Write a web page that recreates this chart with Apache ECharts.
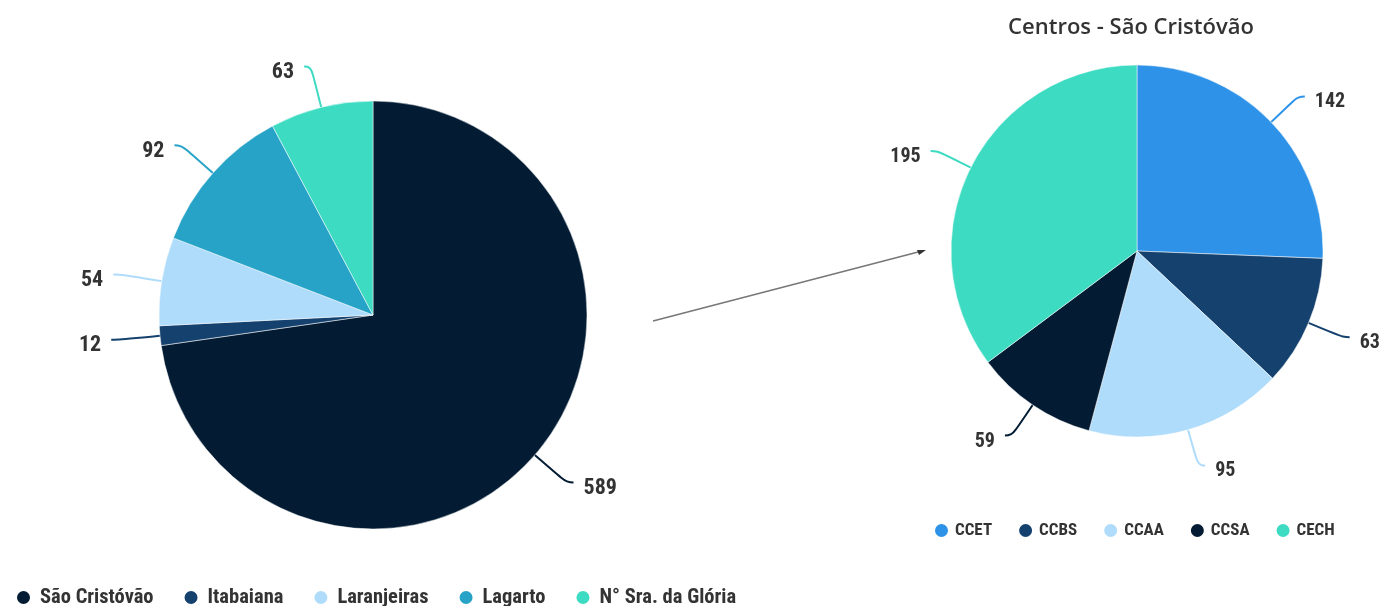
<!DOCTYPE html>
<html><head><meta charset="utf-8">
<script src="https://cdn.jsdelivr.net/npm/echarts@6/dist/echarts.min.js"></script>
<style>html,body{margin:0;padding:0;background:#fff}#c{width:1380px;height:606px}</style>
</head><body><div id="c"></div>
<script>
const campusNames = ['São Cristóvão', 'Itabaiana', 'Laranjeiras', 'Lagarto', 'N° Sra. da Glória'];
const campusValues = [589, 12, 54, 92, 63];
const campusColors = ['#031c33', '#15416e', '#b0dcfb', '#27a3c8', '#3ddbc2'];
const centroNames = ['CCET', 'CCBS', 'CCAA', 'CCSA', 'CECH'];
const centroValues = [142, 63, 95, 59, 195];
const centroColors = ['#2e93e8', '#15416e', '#b0dcfb', '#031c33', '#3ddbc2'];
const titleText = 'Centros - São Cristóvão';

const FONT = '"Roboto Condensed","Liberation Sans Narrow","DejaVu Sans Condensed",Roboto,sans-serif';
const chart = echarts.init(document.getElementById('c'));
function lbl(size) {
  return {show: true, formatter: '{v|{c}}', overflow: 'none', distanceToLabelLine: 10,
    rich: {v: {color: '#333', fontFamily: FONT, fontWeight: 'bold', fontSize: size,
      lineHeight: size + 2, padding: [12, 0, 0, 0]}}};
}
chart.setOption({
  animation: false,
  title: {text: titleText, left: 1126, top: 12, textAlign: 'center',
    textStyle: {fontFamily: '"Open Sans",sans-serif', fontWeight: 600, fontSize: 22, color: '#333'}},
  legend: [
    {data: campusNames, left: 10, top: 582, icon: 'circle', itemWidth: 15, itemHeight: 15, itemGap: 29,
     textStyle: {fontFamily: FONT, fontWeight: 'bold', fontSize: 20.5, color: '#333', padding: [0, 0, 0, 4]}},
    {data: centroNames, left: 928, top: 517, icon: 'circle', itemWidth: 15, itemHeight: 15, itemGap: 25,
     textStyle: {fontFamily: FONT, fontWeight: 'bold', fontSize: 17, color: '#333', padding: [0, 0, 0, 1]}}
  ],
  graphic: [
    {type: 'line', shape: {x1: 653, y1: 321, x2: 922, y2: 251}, style: {stroke: '#777', lineWidth: 1.5}},
    {type: 'polygon', shape: {points: [[926, 250], [917, 250], [919, 255]]}, style: {fill: '#333'}}
  ],
  series: [
    {type: 'pie', center: [373, 315], radius: 214, startAngle: 90, clockwise: true,
     data: campusNames.map((n, i) => ({name: n, value: campusValues[i], itemStyle: {color: campusColors[i]}})),
     label: lbl(22), labelLine: {length: 42, length2: 7, smooth: 0.5, lineStyle: {width: 2}},
     itemStyle: {borderColor: '#fff', borderWidth: 0.5}},
    {type: 'pie', center: [1137, 251], radius: 186, startAngle: 90, clockwise: true,
     data: centroNames.map((n, i) => ({name: n, value: centroValues[i], itemStyle: {color: centroColors[i]}})),
     label: lbl(20), labelLine: {length: 37, length2: 7, smooth: 0.5, lineStyle: {width: 2}},
     itemStyle: {borderColor: '#fff', borderWidth: 0.5}}
  ]
});
</script></body></html>
